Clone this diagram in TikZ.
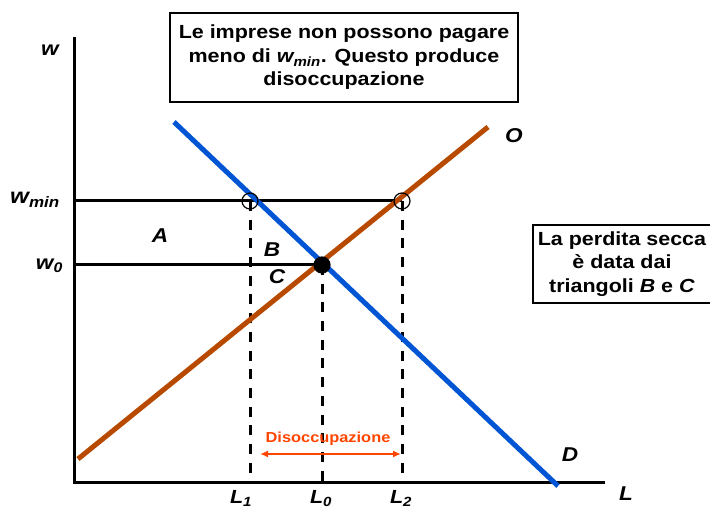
\documentclass[tikz,border=0pt]{standalone}
\usepackage{fontspec}
\setmainfont[FakeStretch=1.13]{Liberation Sans}
\usetikzlibrary{arrows.meta,positioning}
\definecolor{demand}{RGB}{0,85,212}
\definecolor{supply}{RGB}{184,74,0}
\definecolor{jobless}{RGB}{255,69,0}

\begin{document}
\begin{tikzpicture}[x=1pt, y=-1pt,
  axis/.style={line width=3pt, black},
  level/.style={line width=3pt, black},
  guide/.style={line width=3pt, black, dash pattern=on 10pt off 8.7pt},
  demandline/.style={line width=5pt, demand},
  supplyline/.style={line width=5pt, supply},
  tag/.style={font=\fontsize{20}{22}\selectfont\bfseries\itshape, inner sep=0pt},
  box/.style={draw=black, line width=1.3pt, align=center, inner sep=2pt,
              font=\fontsize{19}{23.5}\selectfont\bfseries},
  hollow/.style={circle, draw=black, line width=1.2pt, minimum size=16pt, inner sep=0pt},
  dot/.style={hollow, fill=black},
  span/.style={{Latex[length=8pt, width=7pt]}-{Latex[length=8pt, width=7pt]}, line width=2pt, jobless}
]
\useasboundingbox (0,0) rectangle (710,510);

\coordinate (top) at (74,37);
\coordinate (origin) at (74,483);
\coordinate (lend) at (605,483);
\coordinate (wmin) at (74,201);
\coordinate (wzero) at (74,265);
\coordinate (lone) at (250,483);
\coordinate (lzero) at (322,483);
\coordinate (ltwo) at (402,483);
\coordinate (dstart) at (174,122);
\coordinate (dend) at (558,486);
\coordinate (ostart) at (78,459);
\coordinate (oend) at (488,127);

\draw[axis] (top) -- (origin) -- (lend);
\draw[level] (wmin) -- (ltwo |- wmin);
\draw[level] (wzero) -- (lzero |- wzero);
\draw[guide] (lone |- wmin) -- (lone);
\draw[guide] (lzero |- wzero) -- (lzero);
\draw[guide] (ltwo |- wmin) -- (ltwo);

\draw[supplyline] (ostart) -- (oend);
\draw[demandline] (dstart) -- (dend);

\node[hollow] (cutleft) at (lone |- wmin) {};
\node[hollow] (cutright) at (ltwo |- wmin) {};
\node[dot] (equil) at (lzero |- wzero) {};

\node[tag] (wlabel) at (50,50) {w};
\node[tag, anchor=east, font=\fontsize{21.5}{24}\selectfont\bfseries\itshape] (wminlabel) at (60,200) {w\textsubscript{min}};
\node[tag, anchor=east] (wzerolabel) at (63,266) {w\textsubscript{0}};
\node[tag] (llabel) at (626,494) {L};
\node[tag, anchor=north, font=\fontsize{19}{21}\selectfont\bfseries\itshape] (lonelabel) at (241,490) {L\textsubscript{1}};
\node[tag, anchor=north, font=\fontsize{19}{21}\selectfont\bfseries\itshape] (lzerolabel) at (321,490) {L\textsubscript{0}};
\node[tag, anchor=north, font=\fontsize{19}{21}\selectfont\bfseries\itshape] (ltwolabel) at (401,490) {L\textsubscript{2}};
\node[tag] (olabel) at (514,136) {O};
\node[tag] (dlabel) at (570,455) {D};
\node[tag] (alabel) at (160,236) {A};
\node[tag] (blabel) at (272,250) {B};
\node[tag] (clabel) at (277,277) {C};

\coordinate (spanleft) at (260,454);
\coordinate (spanright) at (401,454);
\draw[span] (spanleft) -- (spanright);
\node[font=\fontsize{14.5}{16}\selectfont\bfseries, text=jobless] (gaplabel) at (328,439) {Disoccupazione};

\node[box, minimum width=348pt, minimum height=89pt] (floorbox) at (344,57.5)
  {Le imprese non possono pagare\\
   meno di \textit{w\textsubscript{min}}. Questo produce\\
   disoccupazione};
\node[box, minimum width=178pt, minimum height=78pt] (lossbox) at (622,264)
  {La perdita secca\\
   è data dai\\
   triangoli \textit{B} e \textit{C}};
\end{tikzpicture}
\end{document}
